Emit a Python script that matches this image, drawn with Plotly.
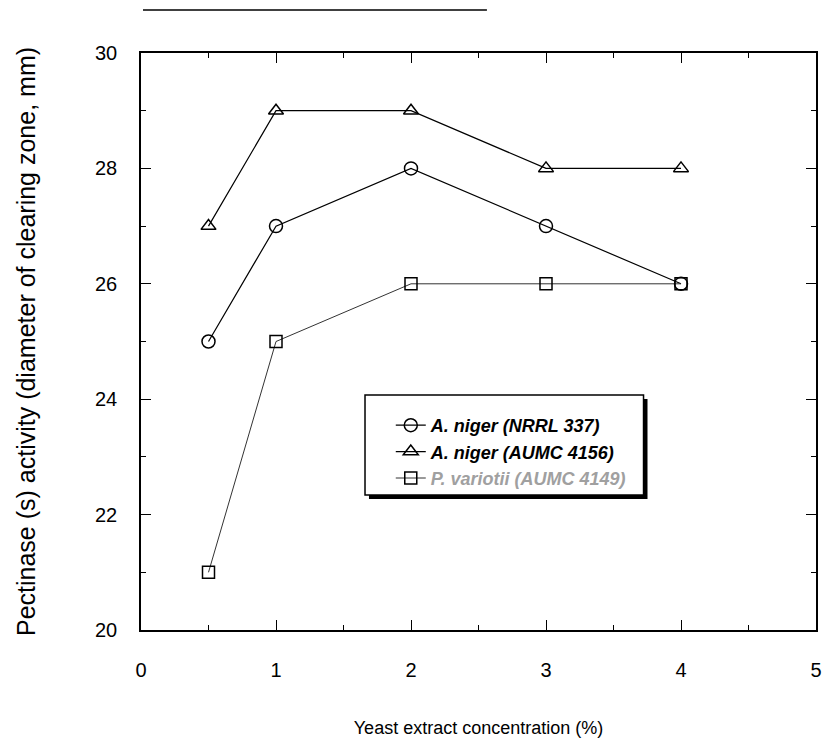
import plotly.graph_objects as go

x_vals = [0.5, 1, 2, 3, 4]
niger_nrrl = [25, 27, 28, 27, 26]
niger_aumc = [27, 29, 29, 28, 28]
variotii = [21, 25, 26, 26, 26]

names = ["A. niger (NRRL 337)", "A. niger (AUMC 4156)", "P. variotii (AUMC 4149)"]
x_ticks = [0, 1, 2, 3, 4, 5]
y_ticks = [20, 22, 24, 26, 28, 30]

L, R, T, B = 141, 822, 53, 630
W, H = 829, 751
pw, ph = R - L, B - T

def px(x):
    return (x - L) / pw

def py(y):
    return (B - y) / ph

fig = go.Figure()
fig.add_trace(go.Scatter(x=x_vals, y=niger_nrrl, mode="lines+markers", name=names[0],
                         line=dict(color="black", width=1.2),
                         marker=dict(symbol="circle-open", size=13, color="black", line=dict(width=1.5))))
fig.add_trace(go.Scatter(x=x_vals, y=niger_aumc, mode="lines+markers", name=names[1],
                         line=dict(color="black", width=1.2),
                         marker=dict(symbol="triangle-up-open", size=13, color="black", line=dict(width=1.5))))
fig.add_trace(go.Scatter(x=x_vals, y=variotii, mode="lines+markers",
                         name="<span style='color:#a0a0a0'>" + names[2] + "</span>",
                         line=dict(color="#333333", width=1.0),
                         marker=dict(symbol="square-open", size=12, color="black", line=dict(width=1.5))))

# legend box with shadow
lx0, lx1, ly0, ly1 = 367, 648, 395, 495
fig.add_shape(type="rect", xref="paper", yref="paper",
              x0=px(lx0 + 4), x1=px(lx1 + 4), y0=py(ly1 + 4), y1=py(ly0 + 4),
              fillcolor="black", line=dict(width=0), layer="above")
fig.add_shape(type="rect", xref="paper", yref="paper",
              x0=px(lx0), x1=px(lx1), y0=py(ly1), y1=py(ly0),
              fillcolor="white", line=dict(color="black", width=1.5), layer="above")
# scan artifact line above plot
fig.add_shape(type="line", xref="paper", yref="paper",
              x0=px(143), x1=px(490), y0=py(10), y1=py(10),
              line=dict(color="black", width=1.5))

axis_common = dict(showline=True, linecolor="black", linewidth=1.6, mirror="ticks",
                   ticks="inside", ticklen=10, tickwidth=1.2, tickcolor="black",
                   showgrid=False, zeroline=False,
                   tickfont=dict(family="Liberation Sans", size=20, color="black"))

fig.update_layout(
    width=W, height=H,
    margin=dict(l=L, r=W - R, t=T, b=H - B),
    paper_bgcolor="white", plot_bgcolor="white",
    showlegend=True,
    legend=dict(x=px(393), y=py(407), xanchor="left", yanchor="top",
                bgcolor="rgba(0,0,0,0)", borderwidth=0,
                font=dict(family="Liberation Sans", size=18, color="black"),
                itemwidth=30, tracegroupgap=0),
    xaxis=dict(range=[0, 5], tickvals=x_ticks, ticktext=[str(v) for v in x_ticks],
               minor=dict(dtick=0.5, ticks="inside", ticklen=5, tickcolor="black", showgrid=False),
               ticklabelstandoff=21,
               title=dict(text="Yeast extract concentration (%)", standoff=42,
                          font=dict(family="Liberation Sans", size=18, color="black")),
               **axis_common),
    yaxis=dict(range=[20, 30], tickvals=y_ticks, ticktext=[str(v) for v in y_ticks],
               minor=dict(dtick=1, ticks="inside", ticklen=5, tickcolor="black", showgrid=False),
               ticklabelstandoff=18,
               title=dict(text="Pectinase (s) activity (diameter of clearing zone, mm)", standoff=52,
                          font=dict(family="Liberation Sans", size=25, color="black")),
               **axis_common),
)
fig.update_traces(cliponaxis=False)
for tr in fig.data:
    tr.name = "<b><i>" + tr.name + "</i></b>"

fig.write_html("out.html")
